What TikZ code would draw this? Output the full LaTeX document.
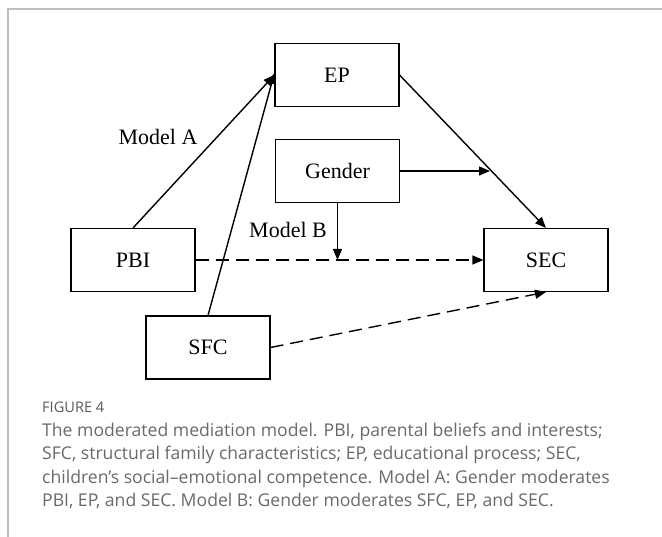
\documentclass[tikz,border=0pt]{standalone}
\usepackage{fontspec}
\setmainfont{Liberation Serif}
\newfontfamily\capfont{Open Sans}
\usetikzlibrary{arrows.meta,calc}
\definecolor{framegray}{RGB}{190,190,190}
\definecolor{capgray}{RGB}{105,105,105}
\definecolor{figgray}{RGB}{90,90,90}
\begin{document}
\begin{tikzpicture}[x=1pt,y=-1pt,
  box/.style={draw,line width=1.1pt,minimum width=124pt,minimum height=63pt,inner sep=0pt,font=\fontsize{22}{26}\selectfont},
  lab/.style={font=\fontsize{22}{26}\selectfont,inner sep=0pt},
  conn/.style={line width=1.4pt,-{Triangle[length=11pt,width=9pt]}},
  dconn/.style={conn,dash pattern=on 13pt off 7pt},
  capline/.style={anchor=base west,inner sep=0pt,font=\capfont\fontsize{17.6}{21}\selectfont,text=capgray}]
\useasboundingbox (0,0) rectangle (662,537);
\draw[framegray,line width=1.5pt] (8,537) -- (8,9) -- (662,9);
\node[box] (EP) at (337,75) {EP};
\node[box] (Gender) at (337.5,171) {Gender};
\node[box] (PBI) at (133,260) {PBI};
\node[box] (SEC) at (546,260) {SEC};
\node[box] (SFC) at (208,347.5) {SFC};
\coordinate (m1) at (490,171);
\coordinate (m2) at (Gender.south |- PBI.east);
\draw[conn] (PBI.north) -- (EP.west);
\draw[conn] (SFC.north) -- ([yshift=2pt]EP.west);
\draw[conn] (EP.east) -- (SEC.north);
\draw[conn] (Gender.east) -- (m1);
\draw[conn] (Gender.south) -- (m2);
\draw[dconn] (PBI.east) -- (SEC.west);
\draw[dconn] (SFC.east) -- (SEC.south);
\node[lab] (mA) at (158,137) {Model A};
\node[lab] (mB) at (288,230) {Model B};
\node[capline,font=\capfont\fontsize{14.6}{17}\selectfont,text=figgray] (fig) at (42,413) {FIGURE 4};
\node[capline] (c1) at (42,437) {The moderated mediation model. PBI, parental beliefs and interests;};
\node[capline] (c2) at (42,460) {SFC, structural family characteristics; EP, educational process; SEC,};
\node[capline] (c3) at (42,483) {children’s social–emotional competence. Model A: Gender moderates};
\node[capline] (c4) at (42,507) {PBI, EP, and SEC. Model B: Gender moderates SFC, EP, and SEC.};
\end{tikzpicture}
\end{document}
